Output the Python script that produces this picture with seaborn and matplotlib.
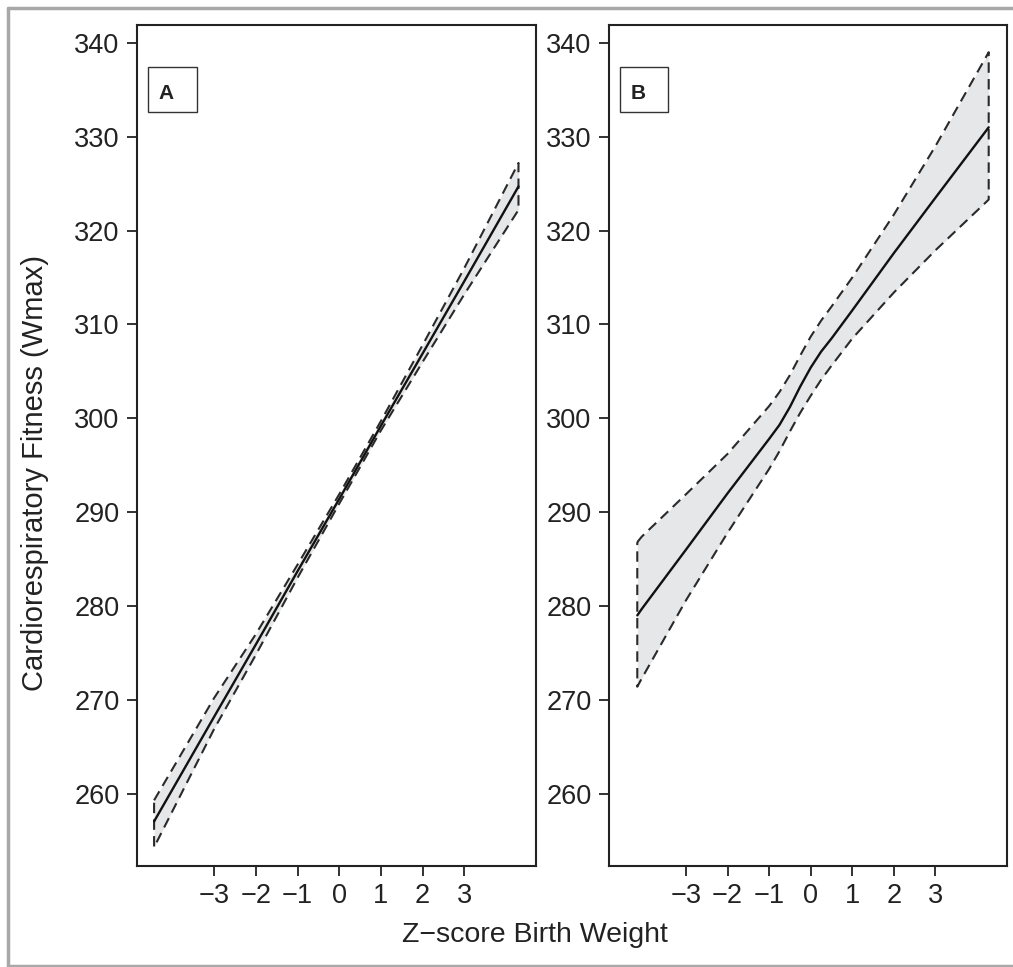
"""
Birth weight z-score vs cardiorespiratory fitness: two panels (A, B),
fitted curve with shaded, dashed-outlined confidence band.
"""

import numpy as np
import pandas as pd
import matplotlib
matplotlib.use('Agg')
import matplotlib.pyplot as plt
from matplotlib.patches import Rectangle
from matplotlib.lines import Line2D
import seaborn as sns

sns.set_style('ticks')
plt.rcParams.update({
    'font.family': ['Liberation Sans', 'DejaVu Sans'],
    'font.size': 19.5,
    'axes.linewidth': 1.5,
    'xtick.major.width': 1.3, 'ytick.major.width': 1.3,
    'xtick.major.size': 7.5, 'ytick.major.size': 7.5,
    'xtick.major.pad': 5, 'ytick.major.pad': 5,
    'xtick.color': '#222222', 'ytick.color': '#222222',
    'text.color': '#222222', 'axes.edgecolor': '#222222',
})

# ── data ────────────────────────────────────────────────────────────────
A_x = [-4.44, -3, -2, -1, 0, 1, 2, 3, 4.30]
A_fit = [257.05, 268.2, 275.9, 283.7, 291.4, 299.2, 306.9, 314.6, 324.7]
A_upper = [259.3, 270.2, 277.0, 284.4, 291.9, 299.7, 307.8, 316.0, 327.2]
A_lower = [254.3, 266.9, 274.8, 283.0, 290.9, 298.7, 306.0, 313.2, 322.2]

B_x = [-4.17, -4.06, -3, -2, -1, -0.75, -0.5, -0.25, 0, 0.25, 0.5, 1, 2, 3, 4.28]
B_fit = [279.0, 279.7, 286.0, 292.0, 297.8, 299.3, 301.2, 303.4, 305.4, 307.1, 308.5,
         311.5, 317.6, 323.5, 331.0]
B_upper = [286.8, 287.4, 291.9, 296.2, 301.3, 302.8, 304.6, 306.7, 308.7, 310.4, 311.9,
           315.0, 321.7, 329.0, 339.0]
B_lower = [271.4, 272.3, 280.6, 287.8, 294.6, 296.5, 298.6, 300.6, 302.4, 304.1, 305.6,
           308.5, 313.4, 317.9, 323.3]

X_TICKS = [-3, -2, -1, 0, 1, 2, 3]
Y_TICKS = [260, 270, 280, 290, 300, 310, 320, 330, 340]
PANELS = ['A', 'B']

W, H = 1013, 967
fig = plt.figure(figsize=(W / 100, H / 100), dpi=100)

# axes boxes in pixels: left, right, top, bottom
boxes = [(137, 536, 25, 866), (609, 1007, 25, 866)]
series = [(A_x, A_fit, A_upper, A_lower), (B_x, B_fit, B_upper, B_lower)]

for (l, r, t, b), (xs, fit, up, lo), lab in zip(boxes, series, PANELS):
    ax = fig.add_axes([l / W, 1 - b / H, (r - l) / W, (b - t) / H])
    xs = np.array(xs)
    ax.fill_between(xs, lo, up, color='#e6e7e8', lw=0, zorder=1)

    # dashed outline of the band: upper edge, right end, lower edge back, left end
    ox = np.concatenate([xs, xs[::-1], xs[:1]])
    oy = np.concatenate([up, lo[::-1], up[:1]])
    outline = pd.DataFrame({'x': ox, 'y': oy})
    sns.lineplot(data=outline, x='x', y='y', ax=ax, sort=False, estimator=None,
                 color='#2a2a2a', lw=1.5, linestyle=(0, (5, 3)), zorder=2)

    df = pd.DataFrame({'x': xs, 'y': fit})
    sns.lineplot(data=df, x='x', y='y', ax=ax, sort=False, estimator=None,
                 color='#111111', lw=1.7, zorder=3)

    ax.set_xlim(-4.85, 4.72)
    ax.set_ylim(252.3, 341.9)
    ax.set_xticks(X_TICKS)
    ax.set_yticks(Y_TICKS)
    ax.set_xlabel('')
    ax.set_ylabel('')
    for s in ax.spines.values():
        s.set_visible(True)

    ax.add_patch(Rectangle((0.028, 0.8962), 0.1213, 0.0542, transform=ax.transAxes,
                           fill=False, ec='#333333', lw=1.0, zorder=4))
    ax.text(0.074, 0.919, lab, transform=ax.transAxes, ha='center', va='center',
            fontsize=15, fontweight='bold', zorder=5)

fig.text(35 / W, 1 - 473 / H, 'Cardiorespiratory Fitness (Wmax)', rotation=90,
         ha='center', va='center', fontsize=21)
fig.text(535 / W, 1 - 935 / H, 'Z\u2212score Birth Weight', ha='center', va='center',
         fontsize=20.5)

# gray frame around the figure
frame = dict(color='#a8a8a8', lw=2.5, transform=fig.transFigure)
fig.add_artist(Line2D([8 / W, 1], [1 - 8 / H, 1 - 8 / H], **frame))
fig.add_artist(Line2D([8 / W, 8 / W], [1 - 8 / H, 1 - 966 / H], **frame))
fig.add_artist(Line2D([8 / W, 1], [1 - 966 / H, 1 - 966 / H], **frame))

fig.savefig('out.png', dpi=100)
plt.close(fig)
